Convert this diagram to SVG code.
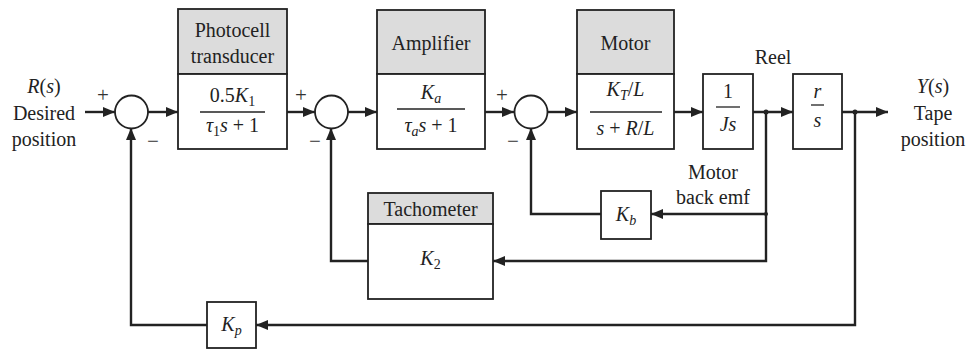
<svg xmlns="http://www.w3.org/2000/svg" width="978" height="350" viewBox="0 0 978 350">
<defs>
<style>
.box{fill:#fff;stroke:#222;stroke-width:1.8}
.hdr{fill:#dcdcdc;stroke:#222;stroke-width:1.8}
.sum{fill:#fff;stroke:#222;stroke-width:1.8}
.ln{fill:none;stroke:#222;stroke-width:2.4}
.fl{stroke:#222;stroke-width:1.3}
text{font-family:"Liberation Serif","Times New Roman",serif;fill:#222}
.t{font-size:20px;text-anchor:middle}
.f{font-size:20px;text-anchor:middle}
.s{font-size:21px;text-anchor:middle;fill:#333}
.i{font-style:italic}
.sub{font-size:14px}
</style>
<marker id="ah" viewBox="0 0 12 10" refX="12" refY="5" markerWidth="12" markerHeight="10" markerUnits="userSpaceOnUse" orient="auto"><path d="M0,0 L12,5 L0,10 z" fill="#222"/></marker>
</defs>
<rect width="978" height="350" fill="#fff"/>

<g id="connectors">
<path class="ln" d="M85,112 H115" marker-end="url(#ah)"/>
<path class="ln" d="M148,112 H178" marker-end="url(#ah)"/>
<path class="ln" d="M287,112 H315" marker-end="url(#ah)"/>
<path class="ln" d="M348,112 H377" marker-end="url(#ah)"/>
<path class="ln" d="M485,112 H514" marker-end="url(#ah)"/>
<path class="ln" d="M548,112 H577" marker-end="url(#ah)"/>
<path class="ln" d="M674,112 H703" marker-end="url(#ah)"/>
<path class="ln" d="M753,112 H793" marker-end="url(#ah)"/>
<path class="ln" d="M842,112 H888" marker-end="url(#ah)"/>
<path class="ln" d="M855,112 V325 H256" marker-end="url(#ah)"/>
<path class="ln" d="M207,325 H131 V128" marker-end="url(#ah)"/>
<path class="ln" d="M766,112 V261 H493" marker-end="url(#ah)"/>
<path class="ln" d="M368,261 H331 V128" marker-end="url(#ah)"/>
<path class="ln" d="M766,214 H651" marker-end="url(#ah)"/>
<path class="ln" d="M601,214 H531 V128" marker-end="url(#ah)"/>
<circle cx="766" cy="112" r="2.5" fill="#222"/>
<circle cx="855" cy="112" r="2.5" fill="#222"/>
<circle cx="766" cy="214" r="2" fill="#222"/>
</g>

<g id="input">
<text class="t" x="44" y="93"><tspan class="i">R</tspan>(<tspan class="i">s</tspan>)</text>
<text class="t" x="44" y="120">Desired</text>
<text class="t" x="44" y="146">position</text>
</g>

<g id="sum1">
<circle class="sum" cx="131.5" cy="112" r="16.5"/>
<text class="s" x="103" y="102">+</text>
<text class="s" x="153" y="148">−</text>
</g>

<g id="photocell">
<rect class="hdr" x="178" y="9" width="109" height="65"/>
<rect class="box" x="178" y="74" width="109" height="75"/>
<text class="t" x="232.5" y="37">Photocell</text>
<text class="t" x="232.5" y="63">transducer</text>
<text class="f" x="232.5" y="102">0.5<tspan class="i">K</tspan><tspan class="sub" dy="4">1</tspan></text>
<line class="fl" x1="200" y1="112" x2="265" y2="112"/>
<text class="f" x="232.5" y="132"><tspan class="i">τ</tspan><tspan class="sub" dy="4">1</tspan><tspan class="i" dy="-4">s</tspan> + 1</text>
</g>

<g id="sum2">
<circle class="sum" cx="331.5" cy="112" r="16.5"/>
<text class="s" x="301" y="102">+</text>
<text class="s" x="315" y="148">−</text>
</g>

<g id="amplifier">
<rect class="hdr" x="377" y="10" width="108" height="64"/>
<rect class="box" x="377" y="74" width="108" height="75"/>
<text class="t" x="431" y="50">Amplifier</text>
<text class="f" x="431" y="99"><tspan class="i">K</tspan><tspan class="sub i" dy="4">a</tspan></text>
<line class="fl" x1="397" y1="109" x2="465" y2="109"/>
<text class="f" x="431" y="132"><tspan class="i">τ</tspan><tspan class="sub i" dy="4">a</tspan><tspan class="i" dy="-4">s</tspan> + 1</text>
</g>

<g id="sum3">
<circle class="sum" cx="531" cy="112" r="16.5"/>
<text class="s" x="502" y="102">+</text>
<text class="s" x="513" y="148">−</text>
</g>

<g id="motor">
<rect class="hdr" x="577" y="10" width="97" height="64"/>
<rect class="box" x="577" y="74" width="97" height="75"/>
<text class="t" x="625.5" y="50">Motor</text>
<text class="f" x="625.5" y="96"><tspan class="i">K</tspan><tspan class="sub i" dy="4">T</tspan><tspan dy="-4">/</tspan><tspan class="i">L</tspan></text>
<line class="fl" x1="590" y1="112" x2="662" y2="112"/>
<text class="f" x="625.5" y="135"><tspan class="i">s</tspan> + <tspan class="i">R</tspan>/<tspan class="i">L</tspan></text>
</g>

<g id="inertia">
<rect class="box" x="703" y="74" width="50" height="75"/>
<text class="f" x="728" y="98">1</text>
<line class="fl" x1="716" y1="107" x2="740" y2="107"/>
<text class="f" x="728" y="131"><tspan class="i">Js</tspan></text>
</g>

<g id="reel">
<text class="t" x="773" y="64">Reel</text>
<rect class="box" x="793" y="74" width="49" height="75"/>
<text class="f" x="817.5" y="98"><tspan class="i">r</tspan></text>
<line class="fl" x1="811" y1="105" x2="824" y2="105"/>
<text class="f" x="817.5" y="127"><tspan class="i">s</tspan></text>
</g>

<g id="output">
<text class="t" x="933" y="93"><tspan class="i">Y</tspan>(<tspan class="i">s</tspan>)</text>
<text class="t" x="933" y="120">Tape</text>
<text class="t" x="933" y="146">position</text>
</g>

<g id="backemf">
<text class="t" x="713" y="179">Motor</text>
<text class="t" x="713" y="204">back emf</text>
<rect class="box" x="601" y="191" width="50" height="48"/>
<text class="f" x="626" y="221"><tspan class="i">K</tspan><tspan class="sub i" dy="4">b</tspan></text>
</g>

<g id="tachometer">
<rect class="hdr" x="368" y="193" width="125" height="31"/>
<rect class="box" x="368" y="224" width="125" height="75"/>
<text class="t" x="430.5" y="216">Tachometer</text>
<text class="f" x="430.5" y="265"><tspan class="i">K</tspan><tspan class="sub" dy="4">2</tspan></text>
</g>

<g id="kp">
<rect class="box" x="207" y="302" width="49" height="46"/>
<text class="f" x="231.5" y="331"><tspan class="i">K</tspan><tspan class="sub i" dy="4">p</tspan></text>
</g>
</svg>
